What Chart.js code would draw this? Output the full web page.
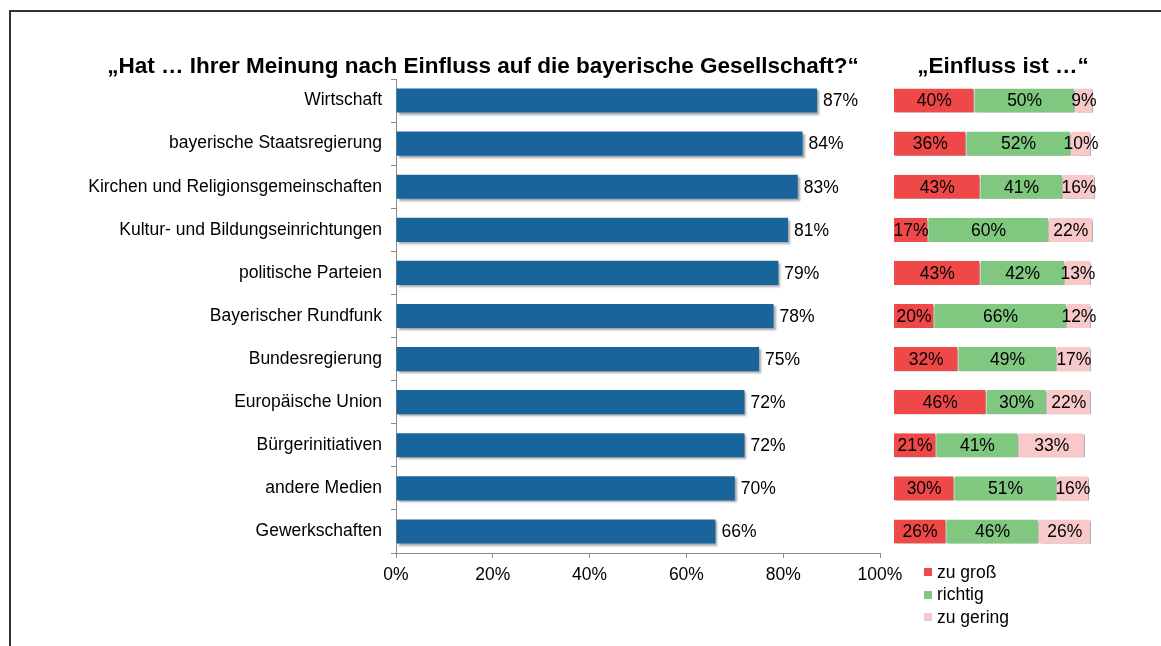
<!DOCTYPE html>
<html>
<head>
<meta charset="utf-8">
<script src="https://cdn.jsdelivr.net/npm/chart.js@4.4.1/dist/chart.umd.min.js"></script>
<style>
  html, body { margin: 0; padding: 0; background: #fff; }
  #wrap { position: relative; width: 1161px; height: 646px; overflow: hidden; font-family: "Liberation Sans", Arial, sans-serif; }
  #frame { position: absolute; left: 9px; top: 10px; right: -5px; bottom: -5px; border-left: 2px solid #333; border-top: 2px solid #333; }
  #c1 { position: absolute; left: 0; top: 0; }
  #c2 { position: absolute; left: 845px; top: 0; }
  #legend { position: absolute; left: 924px; top: 561px; font-size: 17.5px; color: #000; }
  .li { display: flex; align-items: center; height: 22.5px; white-space: nowrap; }
  .sw { width: 8px; height: 8px; margin-right: 5px; flex: none; }
</style>
</head>
<body>
<div id="wrap">
  <div id="frame"></div>
  <canvas id="c1" width="966" height="646"></canvas>
  <canvas id="c2" width="316" height="646"></canvas>
  <div id="legend"></div>
</div>
<script>
// Survey items
const categories = [
  'Wirtschaft',
  'bayerische Staatsregierung',
  'Kirchen und Religionsgemeinschaften',
  'Kultur- und Bildungseinrichtungen',
  'politische Parteien',
  'Bayerischer Rundfunk',
  'Bundesregierung',
  'Europäische Union',
  'Bürgerinitiativen',
  'andere Medien',
  'Gewerkschaften'
];

// Share saying the institution has influence (%)
const influence = [87, 84, 83, 81, 79, 78, 75, 72, 72, 70, 66];

// "Einfluss ist …" split (%)
const tooLarge = [40, 36, 43, 17, 43, 20, 32, 46, 21, 30, 26];
const appropriate = [50, 52, 41, 60, 42, 66, 49, 30, 41, 51, 46];
const tooSmall = [9, 10, 16, 22, 13, 12, 17, 22, 33, 16, 26];

const seriesNames = ['zu groß', 'richtig', 'zu gering'];
const xTickLabels = ['0%', '20%', '40%', '60%', '80%', '100%'];

const mainTitle = '„Hat … Ihrer Meinung nach Einfluss auf die bayerische Gesellschaft?“';
const sideTitle = '„Einfluss ist …“';

const FONT = '"Liberation Sans", Arial, sans-serif';
const LABEL_SIZE = 17.5;
const TITLE_SIZE = 22.5;
const BLUE = '#19649a';
const RED = '#ef4848';
const GREEN = '#80c780';
const PINK = '#f9c9ca';

// Soft drop shadow under every bar
const shadowPlugin = {
  id: 'barShadow',
  beforeDatasetDraw(chart) {
    const ctx = chart.ctx;
    ctx.save();
    ctx.shadowColor = 'rgba(0,0,0,0.35)';
    ctx.shadowOffsetX = 2;
    ctx.shadowOffsetY = 2;
    ctx.shadowBlur = 2;
  },
  afterDatasetDraw(chart) {
    chart.ctx.restore();
  }
};

// Value label to the right of each bar
const endLabels = {
  id: 'endLabels',
  afterDatasetsDraw(chart) {
    const ctx = chart.ctx;
    const meta = chart.getDatasetMeta(0);
    const values = chart.data.datasets[0].data;
    ctx.save();
    ctx.font = LABEL_SIZE + 'px ' + FONT;
    ctx.fillStyle = '#000';
    ctx.textAlign = 'left';
    ctx.textBaseline = 'middle';
    meta.data.forEach((bar, i) => {
      ctx.fillText(values[i] + '%', bar.x + 6, bar.y + 1);
    });
    ctx.restore();
  }
};

// Value label centred inside each stacked segment
const segmentLabels = {
  id: 'segmentLabels',
  afterDatasetsDraw(chart) {
    const ctx = chart.ctx;
    ctx.save();
    ctx.font = LABEL_SIZE + 'px ' + FONT;
    ctx.fillStyle = '#000';
    ctx.textAlign = 'center';
    ctx.textBaseline = 'middle';
    chart.data.datasets.forEach((ds, d) => {
      chart.getDatasetMeta(d).data.forEach((bar, i) => {
        ctx.fillText(ds.data[i] + '%', (bar.x + bar.base) / 2, bar.y + 1);
      });
    });
    ctx.restore();
  }
};

new Chart(document.getElementById('c1'), {
  type: 'bar',
  data: {
    labels: categories,
    datasets: [{
      data: influence,
      backgroundColor: BLUE,
      borderWidth: 0,
      barPercentage: 0.56,
      categoryPercentage: 1
    }]
  },
  options: {
    indexAxis: 'y',
    responsive: false,
    animation: false,
    layout: { padding: { left: 86, right: 86, top: 0, bottom: 0 } },
    plugins: {
      legend: { display: false },
      tooltip: { enabled: false },
      title: {
        display: true,
        text: mainTitle,
        color: '#000',
        font: { family: FONT, size: TITLE_SIZE, weight: 'bold' },
        padding: { top: 53, bottom: -1 }
      }
    },
    scales: {
      x: {
        min: 0,
        max: 100,
        ticks: {
          stepSize: 20,
          color: '#000',
          font: { family: FONT, size: LABEL_SIZE },
          padding: 7,
          maxRotation: 0,
          callback: (v, i) => xTickLabels[i]
        },
        grid: { drawOnChartArea: false, drawTicks: true, tickLength: 5, color: '#8c8c8c' },
        border: { color: '#8c8c8c' },
        afterFit(scale) { scale.height = 93; }
      },
      y: {
        ticks: {
          color: '#000',
          font: { family: FONT, size: LABEL_SIZE },
          padding: 9
        },
        grid: { drawOnChartArea: false, drawTicks: true, tickLength: 5, color: '#8c8c8c', offset: true },
        border: { color: '#8c8c8c' },
        afterFit(scale) { scale.width = 310; }
      }
    }
  },
  plugins: [shadowPlugin, endLabels]
});

const segColors = [RED, GREEN, PINK];
const segData = [tooLarge, appropriate, tooSmall];

new Chart(document.getElementById('c2'), {
  type: 'bar',
  data: {
    labels: categories,
    datasets: seriesNames.map((name, k) => ({
      label: name,
      data: segData[k],
      backgroundColor: segColors[k],
      borderColor: '#ffffff',
      borderWidth: { top: 0, bottom: 0, left: 0, right: 1 },
      borderSkipped: false,
      barPercentage: 0.56,
      categoryPercentage: 1
    }))
  },
  options: {
    indexAxis: 'y',
    responsive: false,
    animation: false,
    layout: { padding: { left: 49, right: 49, top: 0, bottom: 93 } },
    plugins: {
      legend: { display: false },
      tooltip: { enabled: false },
      title: {
        display: true,
        text: sideTitle,
        color: '#000',
        font: { family: FONT, size: TITLE_SIZE, weight: 'bold' },
        padding: { top: 53, bottom: -1 }
      }
    },
    scales: {
      x: { display: false, stacked: true, min: 0, max: 100 },
      y: {
        stacked: true,
        position: 'right',
        ticks: { display: false },
        grid: { display: false },
        border: { display: false },
        afterFit(scale) { scale.width = 17; }
      }
    }
  },
  plugins: [shadowPlugin, segmentLabels]
});

// Legend for the split chart
const legendEl = document.getElementById('legend');
seriesNames.forEach((name, k) => {
  const row = document.createElement('div');
  row.className = 'li';
  const sw = document.createElement('span');
  sw.className = 'sw';
  sw.style.background = segColors[k];
  const tx = document.createElement('span');
  tx.textContent = name;
  row.appendChild(sw);
  row.appendChild(tx);
  legendEl.appendChild(row);
});
</script>
</body>
</html>
